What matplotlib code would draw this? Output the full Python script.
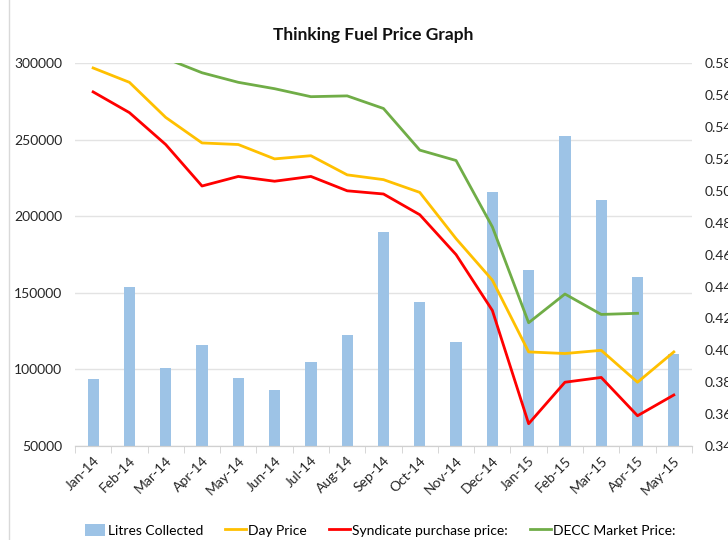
import matplotlib.pyplot as plt
import matplotlib
from matplotlib.lines import Line2D
import numpy as np

matplotlib.rcParams['font.family'] = ['Lato', 'DejaVu Sans']

months = ['Jan-14', 'Feb-14', 'Mar-14', 'Apr-14', 'May-14', 'Jun-14', 'Jul-14', 'Aug-14',
          'Sep-14', 'Oct-14', 'Nov-14', 'Dec-14', 'Jan-15', 'Feb-15', 'Mar-15', 'Apr-15', 'May-15']
litres = [93500, 154000, 101000, 116000, 94500, 86500, 105000, 122500,
          189500, 144000, 118000, 216000, 164800, 252500, 210800, 160300, 110300]
day_price = [0.577, 0.568, 0.546, 0.530, 0.529, 0.520, 0.522, 0.510,
             0.507, 0.499, 0.470, 0.444, 0.399, 0.398, 0.400, 0.380, 0.399]
syndicate = [0.562, 0.549, 0.529, 0.503, 0.509, 0.506, 0.509, 0.500,
             0.498, 0.485, 0.460, 0.425, 0.354, 0.380, 0.383, 0.359, 0.372]
decc = [0.600, 0.594, 0.583, 0.574, 0.568, 0.564, 0.559, 0.5595,
        0.5516, 0.5255, 0.519, 0.4774, 0.4173, 0.4353, 0.4225, 0.4232, np.nan]

fig = plt.figure(figsize=(7.28, 5.4), dpi=100)
ax = fig.add_axes([0.103, 0.174, 0.8475, 0.709])
ax2 = ax.twinx()

x = np.arange(len(months))
bars = ax.bar(x, litres, width=0.31, color='#9DC3E6', label='Litres Collected', zorder=2)
ax.set_ylim(50000, 300000)
ax.set_yticks(range(50000, 300001, 50000))
ax.set_xlim(-0.5, len(months) - 0.5)
ax.grid(axis='y', color='#E3E3E3', linewidth=1, zorder=0)
ax.set_axisbelow(True)

l1, = ax2.plot(x, day_price, color='#FFC000', linewidth=2, label='Day Price')
l2, = ax2.plot(x, syndicate, color='#FF0000', linewidth=2, label='Syndicate purchase price:')
l3, = ax2.plot(x, decc, color='#70AD47', linewidth=2, label='DECC Market Price:')
ax2.set_ylim(0.34, 0.58)
ax2.set_yticks(np.arange(0.34, 0.581, 0.02))
ax2.set_yticklabels(['%.2f' % v for v in np.arange(0.34, 0.581, 0.02)])

for a in (ax, ax2):
    for s in ['top', 'left', 'right']:
        a.spines[s].set_visible(False)
    a.spines['bottom'].set_color('#D0D0D0')
    a.tick_params(axis='y', length=0, pad=9, labelsize=10, labelcolor='#262626')

ax.set_xticks(x)
ax.set_xticklabels(months, rotation=45, ha='right', rotation_mode='anchor', fontsize=10, color='#262626')
ax.tick_params(axis='x', length=0, pad=6)
ax.set_xticks(np.arange(-0.5, len(months)), minor=True)
ax.tick_params(axis='x', which='minor', length=5, color='#D0D0D0')

fig.text(0.513, 0.935, 'Thinking Fuel Price Graph', ha='center', va='center',
         fontsize=12.5, fontweight='bold', color='#111111')

handles = [bars, l1, l2, l3]
fig.legend(handles, ['Litres Collected', 'Day Price', 'Syndicate purchase price:', 'DECC Market Price:'],
           loc='center', ncol=4, bbox_to_anchor=(0.522, 0.018), frameon=False, fontsize=10,
           handlelength=1.5, handletextpad=0.15, columnspacing=1.6,
           handleheight=0.9)

fig.add_artist(Line2D([9 / 728, 9 / 728], [0, 1], transform=fig.transFigure,
                      color='#D9D9D9', linewidth=1))

fig.savefig('out.png', dpi=100)
